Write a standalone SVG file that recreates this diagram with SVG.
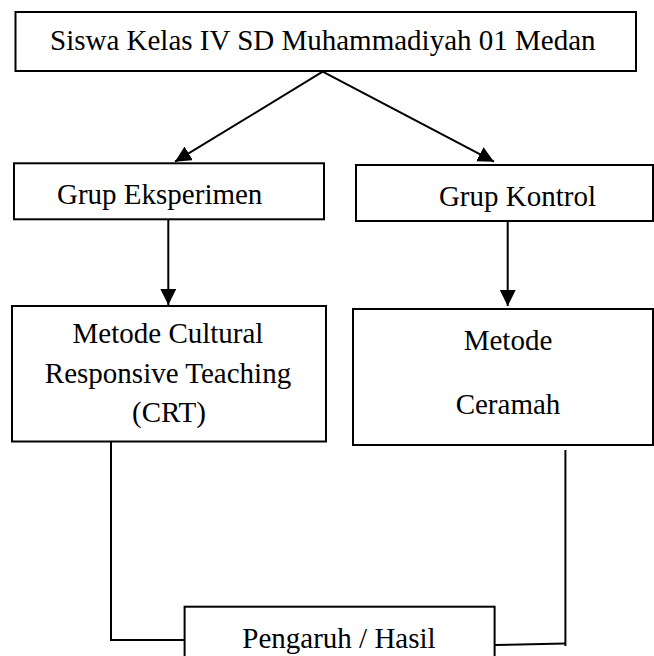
<svg xmlns="http://www.w3.org/2000/svg" width="654" height="656" viewBox="0 0 654 656">
<style>
.box{fill:#fff;stroke:#000;stroke-width:2}
.t{font-family:'Liberation Serif','Times New Roman',Times,'DejaVu Serif',serif;font-size:29px;fill:#000}
.c{fill:none;stroke:#000;stroke-width:2}
.m{text-anchor:middle}
</style>
<defs>
<marker id="ah" viewBox="0 0 16 16" markerWidth="16" markerHeight="16" refX="16" refY="8" orient="auto" markerUnits="userSpaceOnUse">
<path d="M0,0 L16,8 L0,16 Z" fill="#000"/>
</marker>
</defs>
<rect width="654" height="656" fill="#fff"/>
<g id="connectors">
<line class="c" x1="322.7" y1="71.7" x2="175" y2="161.7" marker-end="url(#ah)"/>
<line class="c" x1="322.7" y1="71.7" x2="494" y2="161.7" marker-end="url(#ah)"/>
<line class="c" x1="168.3" y1="220" x2="168.3" y2="305" marker-end="url(#ah)"/>
<line class="c" x1="507.7" y1="222" x2="507.7" y2="306" marker-end="url(#ah)"/>
<polyline class="c" points="111,441 111,640 185,640"/>
<polyline class="c" points="565.4,450 565.4,646"/>
<line class="c" x1="494.6" y1="645" x2="565.4" y2="643.5"/>
</g>
<g id="node-siswa">
<rect class="box" x="15.5" y="12" width="620.5" height="59"/>
<text class="t" x="50" y="50" font-family="Liberation Serif, serif">Siswa Kelas IV SD Muhammadiyah 01 Medan</text>
</g>
<g id="node-eksperimen">
<rect class="box" x="14" y="163.3" width="310" height="56"/>
<text class="t" x="57" y="204">Grup Eksperimen</text>
</g>
<g id="node-kontrol">
<rect class="box" x="356" y="165" width="297" height="56"/>
<text class="t" x="596" y="206" text-anchor="end">Grup Kontrol</text>
</g>
<g id="node-crt">
<rect class="box" x="12" y="306" width="314" height="135.5"/>
<text class="t m" x="168" y="343">Metode Cultural</text>
<text class="t m" x="168" y="382.5">Responsive Teaching</text>
<text class="t m" x="169" y="421.5">(CRT)</text>
</g>
<g id="node-ceramah">
<rect class="box" x="353" y="309" width="300" height="136"/>
<text class="t m" x="508" y="349.5">Metode</text>
<text class="t m" x="508" y="414">Ceramah</text>
</g>
<g id="node-pengaruh">
<rect class="box" x="184.6" y="606.7" width="310" height="60"/>
<text class="t m" x="339" y="648">Pengaruh / Hasil</text>
</g>
</svg>
